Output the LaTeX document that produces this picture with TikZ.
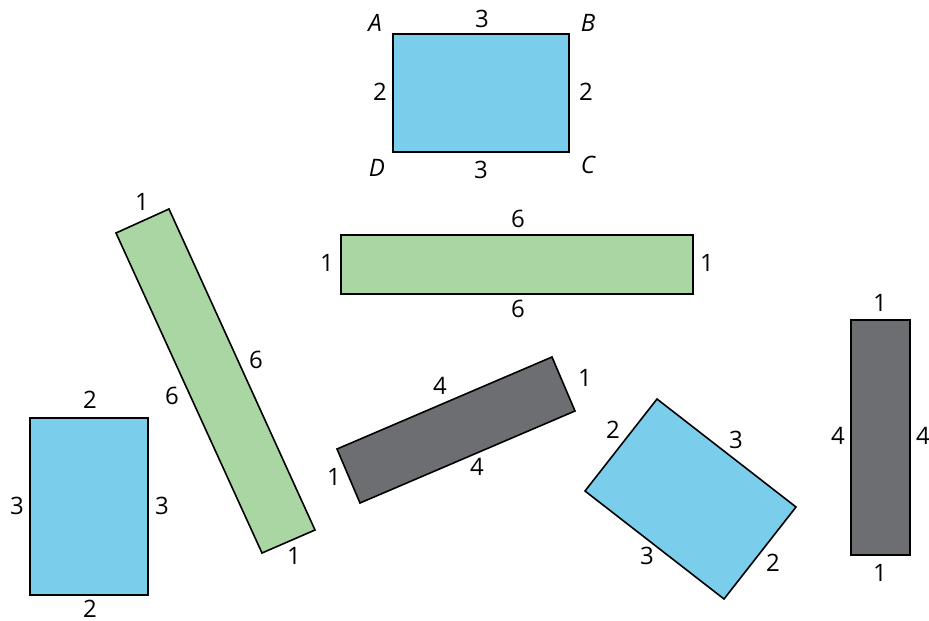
\documentclass[tikz,border=0pt]{standalone}
\usepackage{fontspec}
\setmainfont{Open Sans}
\definecolor{rblue}{HTML}{7ACDEB}
\definecolor{rgreen}{HTML}{A9D6A3}
\definecolor{rgray}{HTML}{6D6E71}
\begin{document}
\begin{tikzpicture}[x=1pt,y=-1pt,
  shp/.style={draw=black,line width=1.6pt,line join=miter},
  lbl/.style={font=\fontsize{24}{28}\selectfont,inner sep=0pt},
  vlbl/.style={font=\fontsize{24}{28}\selectfont\itshape,inner sep=0pt}]
\useasboundingbox (0,0) rectangle (929,621);
% top rectangle ABCD
\filldraw[shp,fill=rblue] (393,34) coordinate (A) -- (569,34) coordinate (B) -- (569,152) coordinate (C) -- (393,152) coordinate (D) -- cycle;
\node[vlbl] (la) at (375,23) {A};
\node[vlbl] (lb) at (588,23) {B};
\node[vlbl] (lc) at (588,165) {C};
\node[vlbl] (ld) at (377,168) {D};
\node[lbl] (t1) at (482,19) {3};
\node[lbl] (t2) at (481,170) {3};
\node[lbl] (t3) at (380,92) {2};
\node[lbl] (t4) at (586,92) {2};
% green horizontal
\filldraw[shp,fill=rgreen] (341,235) rectangle (693,294);
\node[lbl] (g1) at (518,219) {6};
\node[lbl] (g2) at (518,309) {6};
\node[lbl] (g3) at (327,263) {1};
\node[lbl] (g4) at (707,263) {1};
% green tilted
\filldraw[shp,fill=rgreen] (116,233) -- (169,209) -- (315,530) -- (262,553) -- cycle;
\node[lbl] (h1) at (142,202) {1};
\node[lbl] (h2) at (256,360) {6};
\node[lbl] (h3) at (172,396) {6};
\node[lbl] (h4) at (294,556) {1};
% blue left
\filldraw[shp,fill=rblue] (30,418) rectangle (148,595);
\node[lbl] (b1) at (90,400) {2};
\node[lbl] (b2) at (90,609) {2};
\node[lbl] (b3) at (17,506) {3};
\node[lbl] (b4) at (162,506) {3};
% gray tilted
\filldraw[shp,fill=rgray] (337,449) -- (552,357) -- (575,411) -- (360,503) -- cycle;
\node[lbl] (k1) at (440,386) {4};
\node[lbl] (k2) at (477,467) {4};
\node[lbl] (k3) at (585,378) {1};
\node[lbl] (k4) at (334,477) {1};
% blue tilted
\filldraw[shp,fill=rblue] (585,491) -- (657,399) -- (796,507) -- (724,599) -- cycle;
\node[lbl] (c1) at (613,430) {2};
\node[lbl] (c2) at (736,440) {3};
\node[lbl] (c3) at (647,556) {3};
\node[lbl] (c4) at (773,563) {2};
% gray vertical
\filldraw[shp,fill=rgray] (851,320) rectangle (910,555);
\node[lbl] (v1) at (880,303) {1};
\node[lbl] (v2) at (880,573) {1};
\node[lbl] (v3) at (838,436) {4};
\node[lbl] (v4) at (923,436) {4};
\end{tikzpicture}
\end{document}
